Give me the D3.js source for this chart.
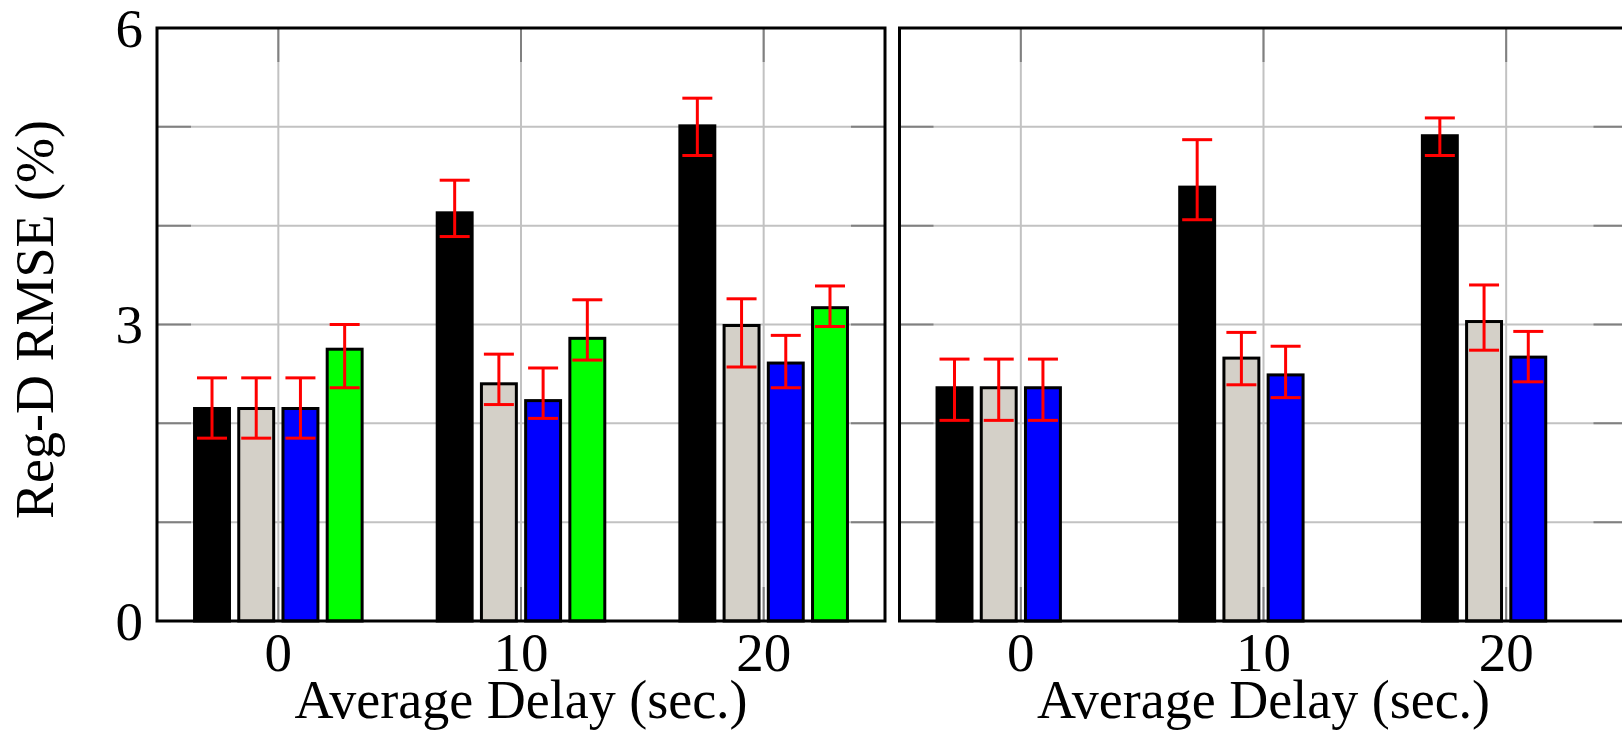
<!DOCTYPE html>
<html>
<head>
<meta charset="utf-8">
<script src="https://cdn.jsdelivr.net/npm/d3@7"></script>
<style>
  html, body { margin: 0; padding: 0; background: #ffffff; }
  svg { display: block; }
  text { font-family: "Liberation Serif", "Times New Roman", serif; fill: #000; }
</style>
</head>
<body>
<svg id="chart" width="1622" height="732"></svg>
<script>
// Delay settings on the x axis
const delays = ["0", "10", "20"];
const seriesKeys = ["m1", "m2", "m3", "m4"];
const seriesFill = ["#000000", "#d4d0c8", "#0000ff", "#00ff00"];

// Y axis ticks (labels only on every third tick)
const yTicks = [0, 1, 2, 3, 4, 5, 6];
const yTickLabels = ["0", "", "", "3", "", "", "6"];

// Left panel: mean RMSE per delay (rows) and method (columns), with error-bar bounds
const leftMean  = [[2.15, 2.15, 2.15, 2.75], [4.13, 2.40, 2.23, 2.86], [5.01, 2.99, 2.61, 3.17]];
const leftLow   = [[1.85, 1.85, 1.85, 2.36], [3.89, 2.19, 2.05, 2.64], [4.71, 2.57, 2.36, 2.98]];
const leftHigh  = [[2.46, 2.46, 2.46, 3.00], [4.46, 2.70, 2.56, 3.25], [5.29, 3.26, 2.89, 3.39]];

// Right panel: only the first three methods
const rightMean = [[2.36, 2.36, 2.36], [4.39, 2.66, 2.49], [4.91, 3.03, 2.67]];
const rightLow  = [[2.03, 2.03, 2.03], [4.06, 2.39, 2.26], [4.71, 2.74, 2.42]];
const rightHigh = [[2.65, 2.65, 2.65], [4.87, 2.92, 2.78], [5.09, 3.40, 2.93]];

const xTitle = "Average Delay (sec.)";
const yTitle = "Reg-D RMSE (%)";

const svg = d3.select("#chart");
const plotTop = 28, plotBottom = 621;
const y = d3.scaleLinear().domain([0, 6]).range([plotBottom, plotTop]);
const tickLen = 34;

function drawPanel(left, right, mean, low, high, showY) {
  const g = svg.append("g");
  const x0 = d3.scaleBand().domain(delays).range([left, right]).padding(0);
  const x1 = d3.scaleBand().domain(seriesKeys)
    .range([0, x0.bandwidth()]).paddingInner(0.21).paddingOuter(0.849);

  // grid
  g.selectAll(".hgrid").data(yTicks.slice(1, -1)).join("line")
    .attr("x1", left).attr("x2", right)
    .attr("y1", d => y(d)).attr("y2", d => y(d))
    .attr("stroke", "#c2c2c2").attr("stroke-width", 2);
  g.selectAll(".vgrid").data(delays).join("line")
    .attr("x1", d => x0(d) + x0.bandwidth() / 2).attr("x2", d => x0(d) + x0.bandwidth() / 2)
    .attr("y1", plotTop).attr("y2", plotBottom)
    .attr("stroke", "#c2c2c2").attr("stroke-width", 2);

  // inward tick marks on all four sides
  const tickCol = "#808080";
  yTicks.forEach(t => {
    g.append("line").attr("x1", left).attr("x2", left + tickLen)
      .attr("y1", y(t)).attr("y2", y(t)).attr("stroke", tickCol).attr("stroke-width", 2);
    g.append("line").attr("x1", right - tickLen).attr("x2", right)
      .attr("y1", y(t)).attr("y2", y(t)).attr("stroke", tickCol).attr("stroke-width", 2);
  });
  delays.forEach(d => {
    const cx = x0(d) + x0.bandwidth() / 2;
    g.append("line").attr("x1", cx).attr("x2", cx)
      .attr("y1", plotBottom).attr("y2", plotBottom - tickLen).attr("stroke", tickCol).attr("stroke-width", 2);
    g.append("line").attr("x1", cx).attr("x2", cx)
      .attr("y1", plotTop).attr("y2", plotTop + tickLen).attr("stroke", tickCol).attr("stroke-width", 2);
  });

  // bars and error bars
  const rows = [];
  delays.forEach((d, i) => {
    mean[i].forEach((v, j) => {
      rows.push({ delay: d, key: seriesKeys[j], fill: seriesFill[j], v, lo: low[i][j], hi: high[i][j] });
    });
  });
  g.selectAll(".bar").data(rows).join("rect")
    .attr("x", r => x0(r.delay) + x1(r.key))
    .attr("width", x1.bandwidth())
    .attr("y", r => y(r.v))
    .attr("height", r => y(0) - y(r.v))
    .attr("fill", r => r.fill)
    .attr("stroke", "#000").attr("stroke-width", 3);

  const cap = 15;
  const eb = g.selectAll(".err").data(rows).join("g")
    .attr("stroke", "#ff0000").attr("stroke-width", 3);
  eb.append("line")
    .attr("x1", r => x0(r.delay) + x1(r.key) + x1.bandwidth() / 2)
    .attr("x2", r => x0(r.delay) + x1(r.key) + x1.bandwidth() / 2)
    .attr("y1", r => y(r.lo)).attr("y2", r => y(r.hi));
  ["lo", "hi"].forEach(k => {
    eb.append("line")
      .attr("x1", r => x0(r.delay) + x1(r.key) + x1.bandwidth() / 2 - cap)
      .attr("x2", r => x0(r.delay) + x1(r.key) + x1.bandwidth() / 2 + cap)
      .attr("y1", r => y(r[k])).attr("y2", r => y(r[k]));
  });

  // frame
  g.append("rect").attr("x", left).attr("y", plotTop)
    .attr("width", right - left).attr("height", plotBottom - plotTop)
    .attr("fill", "none").attr("stroke", "#000").attr("stroke-width", 3);

  // x tick labels and title
  g.selectAll(".xl").data(delays).join("text")
    .attr("x", d => x0(d) + x0.bandwidth() / 2).attr("y", 671)
    .attr("text-anchor", "middle").attr("font-size", 55).text(d => d);
  g.append("text").attr("x", (left + right) / 2).attr("y", 718)
    .attr("text-anchor", "middle").attr("font-size", 54)
    .attr("xml:space", "preserve").text(xTitle);

  if (showY) {
    g.selectAll(".yl").data(yTicks).join("text")
      .attr("x", left - 14).attr("y", d => y(d) + 18.5)
      .attr("text-anchor", "end").attr("font-size", 55)
      .text((d, i) => yTickLabels[i]);
    g.append("text")
      .attr("transform", `translate(53, ${(plotTop + plotBottom) / 2 - 5}) rotate(-90)`)
      .attr("text-anchor", "middle").attr("font-size", 54).text(yTitle);
  }
}

drawPanel(157, 885, leftMean, leftLow, leftHigh, true);
drawPanel(899.5, 1627.5, rightMean, rightLow, rightHigh, false);
</script>
</body>
</html>
